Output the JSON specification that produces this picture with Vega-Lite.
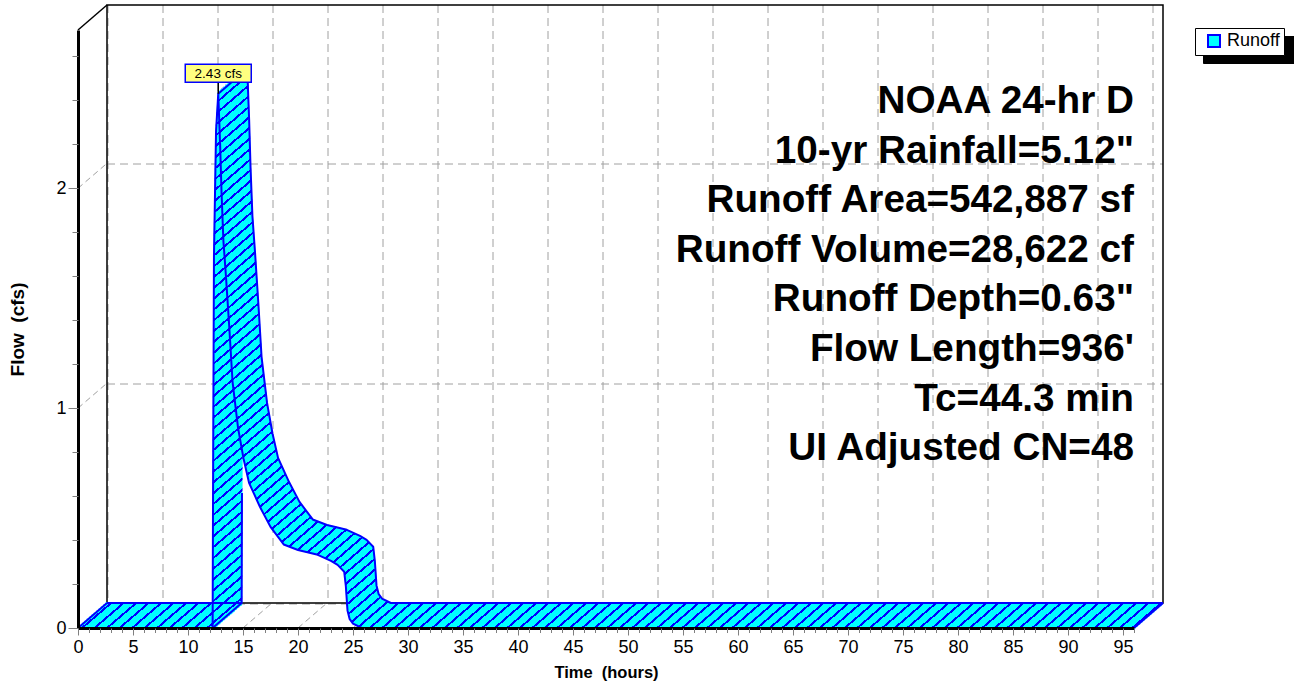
{
"$schema":"https://vega.github.io/schema/vega-lite/v6.json",
"width":1056,"height":598,
"autosize":{"type":"none"},
"padding":{"left":78,"top":30,"right":160,"bottom":58},
"background":"white",
"datasets":{"hydro":[{"t":0,"q":0},{"t":12.24,"q":0},{"t":12.27,"q":0.5},{"t":12.36,"q":1.69},{"t":12.55,"q":2.26},{"t":12.75,"q":2.43},{"t":12.92,"q":2.2},{"t":13.05,"q":1.98},{"t":13.22,"q":1.76},{"t":13.45,"q":1.6},{"t":13.75,"q":1.37},{"t":14.05,"q":1.12},{"t":14.55,"q":0.91},{"t":15.05,"q":0.77},{"t":15.55,"q":0.66},{"t":16.55,"q":0.55},{"t":17.5,"q":0.46},{"t":18.7,"q":0.38},{"t":20,"q":0.355},{"t":21.8,"q":0.333},{"t":23,"q":0.305},{"t":23.6,"q":0.287},{"t":24.2,"q":0.256},{"t":24.35,"q":0.19},{"t":24.5,"q":0.08},{"t":24.7,"q":0.04},{"t":25,"q":0.02},{"t":25.8,"q":0},{"t":96,"q":0}]},
"resolve":{"axis":{"x":"independent","y":"independent"}},
"layer":[
{"data":{"values":[{}]},"mark":{"type":"rect","fill":"transparent","stroke":"black","strokeWidth":1.5,"xOffset":29,"x2Offset":29,"yOffset":-25,"y2Offset":-25},
"encoding":{"x":{"datum":0,"type":"quantitative","axis":null},"x2":{"datum":96},"y":{"datum":0,"type":"quantitative","axis":null},"y2":{"datum":2.72}}},
{"data":{"values":[{"q":1},{"q":2}]},"mark":{"type":"rule","color":"#a0a0a0","strokeWidth":1,"strokeDash":[6,4],"x2Offset":29,"y2Offset":-25},
"encoding":{"x":{"datum":0,"type":"quantitative","axis":null},"x2":{"datum":0},"y":{"field":"q","type":"quantitative","axis":null},"y2":{"field":"q"}}},
{"data":{"values":[{"t":5},{"t":10},{"t":15},{"t":20},{"t":25},{"t":30},{"t":35},{"t":40},{"t":45},{"t":50},{"t":55},{"t":60},{"t":65},{"t":70},{"t":75},{"t":80},{"t":85},{"t":90},{"t":95}]},"mark":{"type":"rule","color":"#a0a0a0","strokeWidth":1,"strokeDash":[6,4],"x2Offset":29,"y2Offset":-25},
"encoding":{"x":{"field":"t","type":"quantitative","axis":null},"x2":{"field":"t"},"y":{"datum":0,"type":"quantitative","axis":null},"y2":{"datum":0}}},
{"data":{"values":[{}]},"mark":{"type":"rule","color":"black","strokeWidth":1.5,"x2Offset":29,"y2Offset":-25},
"encoding":{"x":{"datum":0,"type":"quantitative","axis":null},"x2":{"datum":0},"y":{"datum":2.72,"type":"quantitative","axis":null},"y2":{"datum":2.72}}},
{"data":{"name":"hydro"},
"encoding":{
"x":{"field":"t","type":"quantitative","scale":{"domain":[0,96],"nice":false,"zero":false},"axis":null},
"y":{"field":"q","type":"quantitative","scale":{"domain":[0,2.72],"nice":false,"zero":false},"axis":null}
},
"resolve":{"axis":{"x":"independent","y":"independent"}},
"layer":[
{"mark":{"type":"point","opacity":0},
"encoding":{
"x":{"field":"t","type":"quantitative","axis":{"orient":"bottom","values":[0,5,10,15,20,25,30,35,40,45,50,55,60,65,70,75,80,85,90,95],"grid":true,"gridColor":"#a0a0a0","gridDash":[8,5],"gridWidth":1,"domain":false,"ticks":false,"labels":false,"title":null,"translate":-25,"tickOffset":54.5}},
"y":{"field":"q","type":"quantitative","axis":{"orient":"left","values":[0,1,2],"grid":true,"gridColor":"#a0a0a0","gridDash":[8,5],"gridWidth":1,"domain":false,"ticks":false,"labels":false,"title":null,"translate":29,"tickOffset":-53.5}}}},
{"mark":{"type":"line","xOffset":1.45,"yOffset":-1.25}},
{"mark":{"type":"line","xOffset":3.82,"yOffset":-3.3}},
{"mark":{"type":"line","xOffset":6.19,"yOffset":-5.34}},
{"mark":{"type":"line","xOffset":8.57,"yOffset":-7.39}},
{"mark":{"type":"line","xOffset":10.94,"yOffset":-9.43}},
{"mark":{"type":"line","xOffset":13.31,"yOffset":-11.48}},
{"mark":{"type":"line","xOffset":15.69,"yOffset":-13.52}},
{"mark":{"type":"line","xOffset":18.06,"yOffset":-15.57}},
{"mark":{"type":"line","xOffset":20.43,"yOffset":-17.61}},
{"mark":{"type":"line","xOffset":22.81,"yOffset":-19.66}},
{"mark":{"type":"line","xOffset":25.18,"yOffset":-21.7}},
{"mark":{"type":"line","xOffset":27.55,"yOffset":-23.75}},
{"mark":{"type":"line","stroke":"#0000ff","strokeWidth":2},
"encoding":{
"x":{"field":"t","type":"quantitative","axis":{"orient":"bottom","values":[0,5,10,15,20,25,30,35,40,45,50,55,60,65,70,75,80,85,90,95],"format":"d","tickSize":7,"tickColor":"#808080","tickWidth":1,"domainColor":"black","domainWidth":3,"labelFont":"Liberation Sans","labelFontSize":18,"labelColor":"black","labelPadding":3,"labelFlush":false,"labelOverlap":false,"grid":false,"title":"Time\u00a0 (hours)","titleFont":"Liberation Sans","titleFontSize":16.5,"titleFontWeight":"bold","titleColor":"black","titleX":528,"titleY":44,"titleBaseline":"middle","zindex":1}},
"y":{"field":"q","type":"quantitative","axis":{"orient":"left","values":[0,1,2],"format":"d","tickSize":10,"tickColor":"#808080","tickWidth":1,"domainColor":"black","domainWidth":3,"labelFont":"Liberation Sans","labelFontSize":18,"labelColor":"black","labelPadding":2,"labelFlush":false,"labelOverlap":false,"grid":false,"title":"Flow\u00a0 (cfs)","titleFont":"Liberation Sans","titleFontSize":19,"titleFontWeight":"bold","titleColor":"black","titleX":-61,"titleY":299,"titleBaseline":"middle","zindex":1}}}},
{"transform":[{"filter":"datum.t <= 12.27"}],"mark":{"type":"line","stroke":"#0000ff","strokeWidth":2,"xOffset":29,"yOffset":-25},
"encoding":{
"x":{"field":"t","type":"quantitative","axis":{"orient":"bottom","values":[0,1,2,3,4,5,6,7,8,9,10,11,12,13,14,15,16,17,18,19,20,21,22,23,24,25,26,27,28,29,30,31,32,33,34,35,36,37,38,39,40,41,42,43,44,45,46,47,48,49,50,51,52,53,54,55,56,57,58,59,60,61,62,63,64,65,66,67,68,69,70,71,72,73,74,75,76,77,78,79,80,81,82,83,84,85,86,87,88,89,90,91,92,93,94,95,96],"tickSize":4.5,"tickColor":"#808080","tickWidth":1,"domain":false,"labels":false,"grid":false,"title":null,"zindex":1}},
"y":{"field":"q","type":"quantitative","axis":{"orient":"left","values":[0,0.2,0.4,0.6,0.8,1,1.2,1.4,1.6,1.8,2,2.2,2.4,2.6],"tickSize":6,"tickColor":"#808080","tickWidth":1,"domain":false,"labels":false,"grid":false,"title":null,"zindex":1}}}},
{"transform":[{"filter":"datum.t >= 12.75"}],"mark":{"type":"line","stroke":"#0000ff","strokeWidth":2,"xOffset":29,"yOffset":-25}},
{"transform":[{"filter":"datum.t == 0 || datum.t == 12.24 || datum.t == 12.75 || datum.t == 96"}],"mark":{"type":"rule","color":"#0000ff","strokeWidth":2,"x2Offset":29,"y2Offset":-25},
"encoding":{"x2":{"field":"t"},"y2":{"field":"q"}}},
{"transform":[{"filter":"datum.q == 2.43"}],"mark":{"type":"rule","color":"black","strokeWidth":1.5,"y2Offset":-11.5},
"encoding":{"y2":{"field":"q"}}},
{"transform":[{"filter":"datum.q == 2.43"}],"mark":{"type":"point","shape":"M-1,-0.2727L1,-0.2727L1,0.2727L-1,0.2727Z","size":4356,"filled":true,"fill":"#ffff80","stroke":"#0000ff","strokeWidth":1.5,"opacity":1,"yOffset":-20.5}},
{"transform":[{"filter":"datum.q == 2.43"}],"mark":{"type":"text","text":"2.43 cfs","font":"Liberation Sans","fontSize":13.5,"color":"black","align":"center","baseline":"middle","yOffset":-20}},
{"mark":{"type":"point","opacity":0},
"encoding":{
"fill":{"datum":"Runoff","scale":{"range":["#00ffff"]},"legend":{"orient":"none","legendX":1117,"legendY":-2,"title":null,"padding":4,"symbolType":"square","symbolSize":144,"symbolStrokeColor":"#0000ff","symbolStrokeWidth":2,"symbolOpacity":1,"symbolOffset":6,"labelFont":"Liberation Sans","labelFontSize":18,"labelColor":"black","labelOffset":4,"strokeColor":"black","fillColor":"white","zindex":1}},
"stroke":{"datum":"shadow","scale":{"range":["black"]},"legend":{"orient":"none","legendX":1125,"legendY":6,"title":null,"padding":4,"symbolType":"square","symbolSize":324,"symbolFillColor":"black","symbolStrokeColor":"black","symbolStrokeWidth":2,"symbolOpacity":0,"symbolOffset":6,"labelExpr":"''","labelOffset":60,"strokeColor":"black","fillColor":"black","zindex":0}}}}
]},
{"data":{"values":[{"lines":["NOAA 24-hr D","10-yr Rainfall=5.12\"","Runoff Area=542,887 sf","Runoff Volume=28,622 cf","Runoff Depth=0.63\"","Flow Length=936'","Tc=44.3 min","UI Adjusted CN=48"]}]},
"mark":{"type":"text","align":"right","baseline":"alphabetic","font":"Liberation Sans","fontWeight":"bold","fontSize":38.7,"lineHeight":49.6,"color":"black"},
"encoding":{"x":{"datum":96,"type":"quantitative","axis":null},"y":{"datum":2.342,"type":"quantitative","axis":null},"text":{"field":"lines","type":"nominal"}}}
],
"config":{
"view":{"stroke":null},
"line":{"strokeWidth":4,"strokeJoin":"round","strokeCap":"butt","stroke":{"gradient":"linear","x1":0,"y1":0,"x2":1.7615,"y2":1.0333,"stops":[
{"offset":0.0538,"color":"cyan"},{"offset":0.0538,"color":"blue"},{"offset":0.055,"color":"blue"},{"offset":0.055,"color":"cyan"},{"offset":0.0588,"color":"cyan"},{"offset":0.0588,"color":"blue"},{"offset":0.06,"color":"blue"},{"offset":0.06,"color":"cyan"},
{"offset":0.0638,"color":"cyan"},{"offset":0.0638,"color":"blue"},{"offset":0.065,"color":"blue"},{"offset":0.065,"color":"cyan"},{"offset":0.0688,"color":"cyan"},{"offset":0.0688,"color":"blue"},{"offset":0.07,"color":"blue"},{"offset":0.07,"color":"cyan"},
{"offset":0.0738,"color":"cyan"},{"offset":0.0738,"color":"blue"},{"offset":0.075,"color":"blue"},{"offset":0.075,"color":"cyan"},{"offset":0.0788,"color":"cyan"},{"offset":0.0788,"color":"blue"},{"offset":0.08,"color":"blue"},{"offset":0.08,"color":"cyan"},
{"offset":0.0838,"color":"cyan"},{"offset":0.0838,"color":"blue"},{"offset":0.085,"color":"blue"},{"offset":0.085,"color":"cyan"},{"offset":0.0888,"color":"cyan"},{"offset":0.0888,"color":"blue"},{"offset":0.09,"color":"blue"},{"offset":0.09,"color":"cyan"},
{"offset":0.0938,"color":"cyan"},{"offset":0.0938,"color":"blue"},{"offset":0.095,"color":"blue"},{"offset":0.095,"color":"cyan"},{"offset":0.0988,"color":"cyan"},{"offset":0.0988,"color":"blue"},{"offset":0.1,"color":"blue"},{"offset":0.1,"color":"cyan"},
{"offset":0.1038,"color":"cyan"},{"offset":0.1038,"color":"blue"},{"offset":0.105,"color":"blue"},{"offset":0.105,"color":"cyan"},{"offset":0.1088,"color":"cyan"},{"offset":0.1088,"color":"blue"},{"offset":0.11,"color":"blue"},{"offset":0.11,"color":"cyan"},
{"offset":0.1138,"color":"cyan"},{"offset":0.1138,"color":"blue"},{"offset":0.115,"color":"blue"},{"offset":0.115,"color":"cyan"},{"offset":0.1188,"color":"cyan"},{"offset":0.1188,"color":"blue"},{"offset":0.12,"color":"blue"},{"offset":0.12,"color":"cyan"},
{"offset":0.1238,"color":"cyan"},{"offset":0.1238,"color":"blue"},{"offset":0.125,"color":"blue"},{"offset":0.125,"color":"cyan"},{"offset":0.1288,"color":"cyan"},{"offset":0.1288,"color":"blue"},{"offset":0.13,"color":"blue"},{"offset":0.13,"color":"cyan"},
{"offset":0.1338,"color":"cyan"},{"offset":0.1338,"color":"blue"},{"offset":0.135,"color":"blue"},{"offset":0.135,"color":"cyan"},{"offset":0.1388,"color":"cyan"},{"offset":0.1388,"color":"blue"},{"offset":0.14,"color":"blue"},{"offset":0.14,"color":"cyan"},
{"offset":0.1438,"color":"cyan"},{"offset":0.1438,"color":"blue"},{"offset":0.145,"color":"blue"},{"offset":0.145,"color":"cyan"},{"offset":0.1488,"color":"cyan"},{"offset":0.1488,"color":"blue"},{"offset":0.15,"color":"blue"},{"offset":0.15,"color":"cyan"},
{"offset":0.1538,"color":"cyan"},{"offset":0.1538,"color":"blue"},{"offset":0.155,"color":"blue"},{"offset":0.155,"color":"cyan"},{"offset":0.1588,"color":"cyan"},{"offset":0.1588,"color":"blue"},{"offset":0.16,"color":"blue"},{"offset":0.16,"color":"cyan"},
{"offset":0.1638,"color":"cyan"},{"offset":0.1638,"color":"blue"},{"offset":0.165,"color":"blue"},{"offset":0.165,"color":"cyan"},{"offset":0.1688,"color":"cyan"},{"offset":0.1688,"color":"blue"},{"offset":0.17,"color":"blue"},{"offset":0.17,"color":"cyan"},
{"offset":0.1738,"color":"cyan"},{"offset":0.1738,"color":"blue"},{"offset":0.175,"color":"blue"},{"offset":0.175,"color":"cyan"},{"offset":0.1788,"color":"cyan"},{"offset":0.1788,"color":"blue"},{"offset":0.18,"color":"blue"},{"offset":0.18,"color":"cyan"},
{"offset":0.1838,"color":"cyan"},{"offset":0.1838,"color":"blue"},{"offset":0.185,"color":"blue"},{"offset":0.185,"color":"cyan"},{"offset":0.1888,"color":"cyan"},{"offset":0.1888,"color":"blue"},{"offset":0.19,"color":"blue"},{"offset":0.19,"color":"cyan"},
{"offset":0.1938,"color":"cyan"},{"offset":0.1938,"color":"blue"},{"offset":0.195,"color":"blue"},{"offset":0.195,"color":"cyan"},{"offset":0.1988,"color":"cyan"},{"offset":0.1988,"color":"blue"},{"offset":0.2,"color":"blue"},{"offset":0.2,"color":"cyan"},
{"offset":0.2038,"color":"cyan"},{"offset":0.2038,"color":"blue"},{"offset":0.205,"color":"blue"},{"offset":0.205,"color":"cyan"},{"offset":0.2088,"color":"cyan"},{"offset":0.2088,"color":"blue"},{"offset":0.21,"color":"blue"},{"offset":0.21,"color":"cyan"},
{"offset":0.2138,"color":"cyan"},{"offset":0.2138,"color":"blue"},{"offset":0.215,"color":"blue"},{"offset":0.215,"color":"cyan"},{"offset":0.2188,"color":"cyan"},{"offset":0.2188,"color":"blue"},{"offset":0.22,"color":"blue"},{"offset":0.22,"color":"cyan"},
{"offset":0.2238,"color":"cyan"},{"offset":0.2238,"color":"blue"},{"offset":0.225,"color":"blue"},{"offset":0.225,"color":"cyan"},{"offset":0.2288,"color":"cyan"},{"offset":0.2288,"color":"blue"},{"offset":0.23,"color":"blue"},{"offset":0.23,"color":"cyan"},
{"offset":0.2338,"color":"cyan"},{"offset":0.2338,"color":"blue"},{"offset":0.235,"color":"blue"},{"offset":0.235,"color":"cyan"},{"offset":0.2388,"color":"cyan"},{"offset":0.2388,"color":"blue"},{"offset":0.24,"color":"blue"},{"offset":0.24,"color":"cyan"},
{"offset":0.2438,"color":"cyan"},{"offset":0.2438,"color":"blue"},{"offset":0.245,"color":"blue"},{"offset":0.245,"color":"cyan"},{"offset":0.2488,"color":"cyan"},{"offset":0.2488,"color":"blue"},{"offset":0.25,"color":"blue"},{"offset":0.25,"color":"cyan"},
{"offset":0.2538,"color":"cyan"},{"offset":0.2538,"color":"blue"},{"offset":0.255,"color":"blue"},{"offset":0.255,"color":"cyan"},{"offset":0.2588,"color":"cyan"},{"offset":0.2588,"color":"blue"},{"offset":0.26,"color":"blue"},{"offset":0.26,"color":"cyan"},
{"offset":0.2638,"color":"cyan"},{"offset":0.2638,"color":"blue"},{"offset":0.265,"color":"blue"},{"offset":0.265,"color":"cyan"},{"offset":0.2688,"color":"cyan"},{"offset":0.2688,"color":"blue"},{"offset":0.27,"color":"blue"},{"offset":0.27,"color":"cyan"},
{"offset":0.2738,"color":"cyan"},{"offset":0.2738,"color":"blue"},{"offset":0.275,"color":"blue"},{"offset":0.275,"color":"cyan"},{"offset":0.2788,"color":"cyan"},{"offset":0.2788,"color":"blue"},{"offset":0.28,"color":"blue"},{"offset":0.28,"color":"cyan"},
{"offset":0.2838,"color":"cyan"},{"offset":0.2838,"color":"blue"},{"offset":0.285,"color":"blue"},{"offset":0.285,"color":"cyan"},{"offset":0.2888,"color":"cyan"},{"offset":0.2888,"color":"blue"},{"offset":0.29,"color":"blue"},{"offset":0.29,"color":"cyan"},
{"offset":0.2938,"color":"cyan"},{"offset":0.2938,"color":"blue"},{"offset":0.295,"color":"blue"},{"offset":0.295,"color":"cyan"},{"offset":0.2988,"color":"cyan"},{"offset":0.2988,"color":"blue"},{"offset":0.3,"color":"blue"},{"offset":0.3,"color":"cyan"},
{"offset":0.3038,"color":"cyan"},{"offset":0.3038,"color":"blue"},{"offset":0.305,"color":"blue"},{"offset":0.305,"color":"cyan"},{"offset":0.3088,"color":"cyan"},{"offset":0.3088,"color":"blue"},{"offset":0.31,"color":"blue"},{"offset":0.31,"color":"cyan"},
{"offset":0.3138,"color":"cyan"},{"offset":0.3138,"color":"blue"},{"offset":0.315,"color":"blue"},{"offset":0.315,"color":"cyan"},{"offset":0.3188,"color":"cyan"},{"offset":0.3188,"color":"blue"},{"offset":0.32,"color":"blue"},{"offset":0.32,"color":"cyan"},
{"offset":0.3238,"color":"cyan"},{"offset":0.3238,"color":"blue"},{"offset":0.325,"color":"blue"},{"offset":0.325,"color":"cyan"},{"offset":0.3288,"color":"cyan"},{"offset":0.3288,"color":"blue"},{"offset":0.33,"color":"blue"},{"offset":0.33,"color":"cyan"},
{"offset":0.3338,"color":"cyan"},{"offset":0.3338,"color":"blue"},{"offset":0.335,"color":"blue"},{"offset":0.335,"color":"cyan"},{"offset":0.3388,"color":"cyan"},{"offset":0.3388,"color":"blue"},{"offset":0.34,"color":"blue"},{"offset":0.34,"color":"cyan"},
{"offset":0.3438,"color":"cyan"},{"offset":0.3438,"color":"blue"},{"offset":0.345,"color":"blue"},{"offset":0.345,"color":"cyan"},{"offset":0.3488,"color":"cyan"},{"offset":0.3488,"color":"blue"},{"offset":0.35,"color":"blue"},{"offset":0.35,"color":"cyan"},
{"offset":0.3538,"color":"cyan"},{"offset":0.3538,"color":"blue"},{"offset":0.355,"color":"blue"},{"offset":0.355,"color":"cyan"},{"offset":0.3588,"color":"cyan"},{"offset":0.3588,"color":"blue"},{"offset":0.36,"color":"blue"},{"offset":0.36,"color":"cyan"},
{"offset":0.3638,"color":"cyan"},{"offset":0.3638,"color":"blue"},{"offset":0.365,"color":"blue"},{"offset":0.365,"color":"cyan"},{"offset":0.3688,"color":"cyan"},{"offset":0.3688,"color":"blue"},{"offset":0.37,"color":"blue"},{"offset":0.37,"color":"cyan"},
{"offset":0.3738,"color":"cyan"},{"offset":0.3738,"color":"blue"},{"offset":0.375,"color":"blue"},{"offset":0.375,"color":"cyan"},{"offset":0.3788,"color":"cyan"},{"offset":0.3788,"color":"blue"},{"offset":0.38,"color":"blue"},{"offset":0.38,"color":"cyan"},
{"offset":0.3838,"color":"cyan"},{"offset":0.3838,"color":"blue"},{"offset":0.385,"color":"blue"},{"offset":0.385,"color":"cyan"},{"offset":0.3888,"color":"cyan"},{"offset":0.3888,"color":"blue"},{"offset":0.39,"color":"blue"},{"offset":0.39,"color":"cyan"},
{"offset":0.3938,"color":"cyan"},{"offset":0.3938,"color":"blue"},{"offset":0.395,"color":"blue"},{"offset":0.395,"color":"cyan"},{"offset":0.3988,"color":"cyan"},{"offset":0.3988,"color":"blue"},{"offset":0.4,"color":"blue"},{"offset":0.4,"color":"cyan"},
{"offset":0.4038,"color":"cyan"},{"offset":0.4038,"color":"blue"},{"offset":0.405,"color":"blue"},{"offset":0.405,"color":"cyan"},{"offset":0.4088,"color":"cyan"},{"offset":0.4088,"color":"blue"},{"offset":0.41,"color":"blue"},{"offset":0.41,"color":"cyan"},
{"offset":0.4138,"color":"cyan"},{"offset":0.4138,"color":"blue"},{"offset":0.415,"color":"blue"},{"offset":0.415,"color":"cyan"},{"offset":0.4188,"color":"cyan"},{"offset":0.4188,"color":"blue"},{"offset":0.42,"color":"blue"},{"offset":0.42,"color":"cyan"},
{"offset":0.4238,"color":"cyan"},{"offset":0.4238,"color":"blue"},{"offset":0.425,"color":"blue"},{"offset":0.425,"color":"cyan"},{"offset":0.4288,"color":"cyan"},{"offset":0.4288,"color":"blue"},{"offset":0.43,"color":"blue"},{"offset":0.43,"color":"cyan"},
{"offset":0.4338,"color":"cyan"},{"offset":0.4338,"color":"blue"},{"offset":0.435,"color":"blue"},{"offset":0.435,"color":"cyan"},{"offset":0.4388,"color":"cyan"},{"offset":0.4388,"color":"blue"},{"offset":0.44,"color":"blue"},{"offset":0.44,"color":"cyan"},
{"offset":0.4438,"color":"cyan"},{"offset":0.4438,"color":"blue"},{"offset":0.445,"color":"blue"},{"offset":0.445,"color":"cyan"},{"offset":0.4488,"color":"cyan"},{"offset":0.4488,"color":"blue"},{"offset":0.45,"color":"blue"},{"offset":0.45,"color":"cyan"},
{"offset":0.4538,"color":"cyan"},{"offset":0.4538,"color":"blue"},{"offset":0.455,"color":"blue"},{"offset":0.455,"color":"cyan"},{"offset":0.4588,"color":"cyan"},{"offset":0.4588,"color":"blue"},{"offset":0.46,"color":"blue"},{"offset":0.46,"color":"cyan"},
{"offset":0.4638,"color":"cyan"},{"offset":0.4638,"color":"blue"},{"offset":0.465,"color":"blue"},{"offset":0.465,"color":"cyan"},{"offset":0.4688,"color":"cyan"},{"offset":0.4688,"color":"blue"},{"offset":0.47,"color":"blue"},{"offset":0.47,"color":"cyan"},
{"offset":0.4738,"color":"cyan"},{"offset":0.4738,"color":"blue"},{"offset":0.475,"color":"blue"},{"offset":0.475,"color":"cyan"},{"offset":0.4788,"color":"cyan"},{"offset":0.4788,"color":"blue"},{"offset":0.48,"color":"blue"},{"offset":0.48,"color":"cyan"},
{"offset":0.4838,"color":"cyan"},{"offset":0.4838,"color":"blue"},{"offset":0.485,"color":"blue"},{"offset":0.485,"color":"cyan"},{"offset":0.4888,"color":"cyan"},{"offset":0.4888,"color":"blue"},{"offset":0.49,"color":"blue"},{"offset":0.49,"color":"cyan"},
{"offset":0.4938,"color":"cyan"},{"offset":0.4938,"color":"blue"},{"offset":0.495,"color":"blue"},{"offset":0.495,"color":"cyan"},{"offset":0.4988,"color":"cyan"},{"offset":0.4988,"color":"blue"},{"offset":0.5,"color":"blue"},{"offset":0.5,"color":"cyan"},
{"offset":0.5038,"color":"cyan"},{"offset":0.5038,"color":"blue"},{"offset":0.505,"color":"blue"},{"offset":0.505,"color":"cyan"},{"offset":0.5088,"color":"cyan"},{"offset":0.5088,"color":"blue"},{"offset":0.51,"color":"blue"},{"offset":0.51,"color":"cyan"},
{"offset":0.5138,"color":"cyan"},{"offset":0.5138,"color":"blue"},{"offset":0.515,"color":"blue"},{"offset":0.515,"color":"cyan"},{"offset":0.5188,"color":"cyan"},{"offset":0.5188,"color":"blue"},{"offset":0.52,"color":"blue"},{"offset":0.52,"color":"cyan"},
{"offset":0.5238,"color":"cyan"},{"offset":0.5238,"color":"blue"},{"offset":0.525,"color":"blue"},{"offset":0.525,"color":"cyan"},{"offset":0.5288,"color":"cyan"},{"offset":0.5288,"color":"blue"},{"offset":0.53,"color":"blue"},{"offset":0.53,"color":"cyan"},
{"offset":0.5338,"color":"cyan"},{"offset":0.5338,"color":"blue"},{"offset":0.535,"color":"blue"},{"offset":0.535,"color":"cyan"},{"offset":0.5388,"color":"cyan"},{"offset":0.5388,"color":"blue"},{"offset":0.54,"color":"blue"},{"offset":0.54,"color":"cyan"},
{"offset":0.5438,"color":"cyan"},{"offset":0.5438,"color":"blue"},{"offset":0.545,"color":"blue"},{"offset":0.545,"color":"cyan"},{"offset":0.5488,"color":"cyan"},{"offset":0.5488,"color":"blue"},{"offset":0.55,"color":"blue"},{"offset":0.55,"color":"cyan"},
{"offset":0.5538,"color":"cyan"},{"offset":0.5538,"color":"blue"},{"offset":0.555,"color":"blue"},{"offset":0.555,"color":"cyan"},{"offset":0.5588,"color":"cyan"},{"offset":0.5588,"color":"blue"},{"offset":0.56,"color":"blue"},{"offset":0.56,"color":"cyan"},
{"offset":0.5638,"color":"cyan"},{"offset":0.5638,"color":"blue"},{"offset":0.565,"color":"blue"},{"offset":0.565,"color":"cyan"},{"offset":0.5688,"color":"cyan"},{"offset":0.5688,"color":"blue"},{"offset":0.57,"color":"blue"},{"offset":0.57,"color":"cyan"},
{"offset":0.5738,"color":"cyan"},{"offset":0.5738,"color":"blue"},{"offset":0.575,"color":"blue"},{"offset":0.575,"color":"cyan"},{"offset":0.5788,"color":"cyan"},{"offset":0.5788,"color":"blue"},{"offset":0.58,"color":"blue"},{"offset":0.58,"color":"cyan"},
{"offset":0.5838,"color":"cyan"},{"offset":0.5838,"color":"blue"},{"offset":0.585,"color":"blue"},{"offset":0.585,"color":"cyan"},{"offset":0.5888,"color":"cyan"},{"offset":0.5888,"color":"blue"},{"offset":0.59,"color":"blue"},{"offset":0.59,"color":"cyan"},
{"offset":0.5938,"color":"cyan"},{"offset":0.5938,"color":"blue"},{"offset":0.595,"color":"blue"},{"offset":0.595,"color":"cyan"},{"offset":0.5988,"color":"cyan"},{"offset":0.5988,"color":"blue"},{"offset":0.6,"color":"blue"},{"offset":0.6,"color":"cyan"},
{"offset":0.6038,"color":"cyan"},{"offset":0.6038,"color":"blue"},{"offset":0.605,"color":"blue"},{"offset":0.605,"color":"cyan"},{"offset":0.6088,"color":"cyan"},{"offset":0.6088,"color":"blue"},{"offset":0.61,"color":"blue"},{"offset":0.61,"color":"cyan"},
{"offset":0.6138,"color":"cyan"},{"offset":0.6138,"color":"blue"},{"offset":0.615,"color":"blue"},{"offset":0.615,"color":"cyan"},{"offset":0.6188,"color":"cyan"},{"offset":0.6188,"color":"blue"},{"offset":0.62,"color":"blue"},{"offset":0.62,"color":"cyan"},
{"offset":0.6238,"color":"cyan"},{"offset":0.6238,"color":"blue"},{"offset":0.625,"color":"blue"},{"offset":0.625,"color":"cyan"},{"offset":0.6288,"color":"cyan"},{"offset":0.6288,"color":"blue"},{"offset":0.63,"color":"blue"},{"offset":0.63,"color":"cyan"},
{"offset":0.6338,"color":"cyan"},{"offset":0.6338,"color":"blue"},{"offset":0.635,"color":"blue"},{"offset":0.635,"color":"cyan"},{"offset":0.6388,"color":"cyan"},{"offset":0.6388,"color":"blue"},{"offset":0.64,"color":"blue"},{"offset":0.64,"color":"cyan"},
{"offset":0.6438,"color":"cyan"},{"offset":0.6438,"color":"blue"},{"offset":0.645,"color":"blue"},{"offset":0.645,"color":"cyan"},{"offset":0.6488,"color":"cyan"},{"offset":0.6488,"color":"blue"},{"offset":0.65,"color":"blue"},{"offset":0.65,"color":"cyan"},
{"offset":0.6538,"color":"cyan"},{"offset":0.6538,"color":"blue"},{"offset":0.655,"color":"blue"},{"offset":0.655,"color":"cyan"},{"offset":0.6588,"color":"cyan"},{"offset":0.6588,"color":"blue"},{"offset":0.66,"color":"blue"},{"offset":0.66,"color":"cyan"},
{"offset":0.6638,"color":"cyan"},{"offset":0.6638,"color":"blue"},{"offset":0.665,"color":"blue"},{"offset":0.665,"color":"cyan"},{"offset":0.6688,"color":"cyan"},{"offset":0.6688,"color":"blue"},{"offset":0.67,"color":"blue"},{"offset":0.67,"color":"cyan"},
{"offset":0.6738,"color":"cyan"},{"offset":0.6738,"color":"blue"},{"offset":0.675,"color":"blue"},{"offset":0.675,"color":"cyan"},{"offset":0.6788,"color":"cyan"},{"offset":0.6788,"color":"blue"},{"offset":0.68,"color":"blue"},{"offset":0.68,"color":"cyan"}
]}}
}
}
